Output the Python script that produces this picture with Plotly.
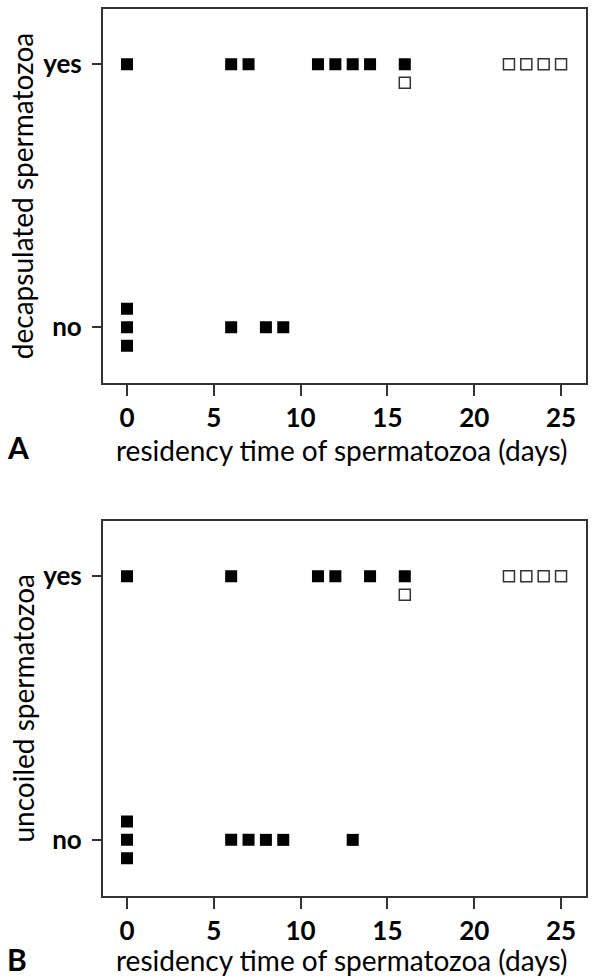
import plotly.graph_objects as go

# ---- data ----
A_filled_yes = [0, 6, 7, 11, 12, 13, 14, 16]
A_filled_no = [0, 0, 0, 6, 8, 9]
A_open_yes = [16, 22, 23, 24, 25]
A_open_no = []

B_filled_yes = [0, 6, 11, 12, 14, 16]
B_filled_no = [0, 0, 0, 6, 7, 8, 9, 13]
B_open_yes = [16, 22, 23, 24, 25]
B_open_no = []

y_tick_vals = [0, 1]
y_tick_text = ["no", "yes"]
x_tick_vals = [0, 5, 10, 15, 20, 25]
x_title = "residency time of spermatozoa (days)"
y_titles = ["decapsulated spermatozoa", "uncoiled spermatozoa"]
panel_labels = ["A", "B"]

W, H = 594, 979

STEP = 0.07
OFFS = [0, -1, 1, -2, 2, -3, 3]


def px_x(px):
    return px / W


def px_y(py):
    return 1 - py / H


def stacked(groups):
    """groups: list of (xs, level). returns list of (xs, ys) with stacking offsets."""
    count = {}
    out = []
    for xs, lvl in groups:
        ys = []
        for x in xs:
            k = (x, lvl)
            n = count.get(k, 0)
            count[k] = n + 1
            ys.append(lvl + OFFS[n] * STEP)
        out.append((xs, ys))
    return out


fig = go.Figure()

panels = [
    (A_filled_yes, A_filled_no, A_open_yes, A_open_no, "x", "y"),
    (B_filled_yes, B_filled_no, B_open_yes, B_open_no, "x2", "y2"),
]

for fy, fn, oy, on, xa, ya in panels:
    res = stacked([(fy, 1), (fn, 0), (oy, 1), (on, 0)])
    fxs = res[0][0] + res[1][0]
    fys = res[0][1] + res[1][1]
    oxs = res[2][0] + res[3][0]
    oys = res[2][1] + res[3][1]
    fig.add_trace(go.Scatter(x=fxs, y=fys, mode="markers", xaxis=xa, yaxis=ya,
                             marker=dict(symbol="square", size=12, color="black",
                                         line=dict(width=0)),
                             showlegend=False, hoverinfo="skip"))
    fig.add_trace(go.Scatter(x=oxs, y=oys, mode="markers", xaxis=xa, yaxis=ya,
                             marker=dict(symbol="square", size=11, color="white",
                                         line=dict(width=1.5, color="#333333")),
                             showlegend=False, hoverinfo="skip"))

xl, xr = px_x(102.7), px_x(585.7)
domA = [px_y(383.3), px_y(9)]
domB = [px_y(896), px_y(521)]

axis_common = dict(showline=True, linecolor="#333333", linewidth=1.5, mirror=True,
                   ticks="outside", tickcolor="#333333", tickwidth=1.5,
                   showgrid=False, zeroline=False, automargin=False,
                   tickfont=dict(family="Lato", size=26, color="black", weight="bold"))

xkw = dict(axis_common, range=[-1.4, 26.42], tickvals=x_tick_vals, ticklen=11,
           domain=[xl, xr])
ykw = dict(axis_common, range=[-0.213, 1.21], tickvals=y_tick_vals,
           ticktext=y_tick_text, ticklen=9, ticklabelstandoff=5)

fig.update_layout(
    width=W, height=H,
    margin=dict(l=0, r=0, t=0, b=0),
    paper_bgcolor="white", plot_bgcolor="white",
    xaxis=dict(xkw, anchor="y"),
    yaxis=dict(ykw, domain=domA, anchor="x"),
    xaxis2=dict(xkw, anchor="y2"),
    yaxis2=dict(ykw, domain=domB, anchor="x2"),
)

ann = []
for dom, bottom_px, ylab, plab in zip([domA, domB], [383.3, 896], y_titles, panel_labels):
    ann.append(dict(text=ylab, textangle=-90, x=px_x(22), y=(dom[0] + dom[1]) / 2,
                    xref="paper", yref="paper", xanchor="center", yanchor="middle",
                    showarrow=False, font=dict(family="Lato", size=28, color="black")))
    ann.append(dict(text=x_title, x=px_x(341), y=px_y(min(bottom_px + 86, H)),
                    xref="paper", yref="paper", xanchor="center", yanchor="bottom",
                    showarrow=False, font=dict(family="Lato", size=28, color="black")))
    ann.append(dict(text=plab, x=px_x(5), y=px_y(min(bottom_px + 84, H)),
                    xref="paper", yref="paper", xanchor="left", yanchor="bottom",
                    showarrow=False,
                    font=dict(family="Lato", size=30, color="black", weight="bold")))
fig.update_layout(annotations=ann)

# remove the browser's default 8px body margin so the figure fills the window
fig.write_html("out.html",
               config={"displayModeBar": False},
               post_script="document.body.style.margin='0';"
                           "document.body.style.overflow='hidden';")
